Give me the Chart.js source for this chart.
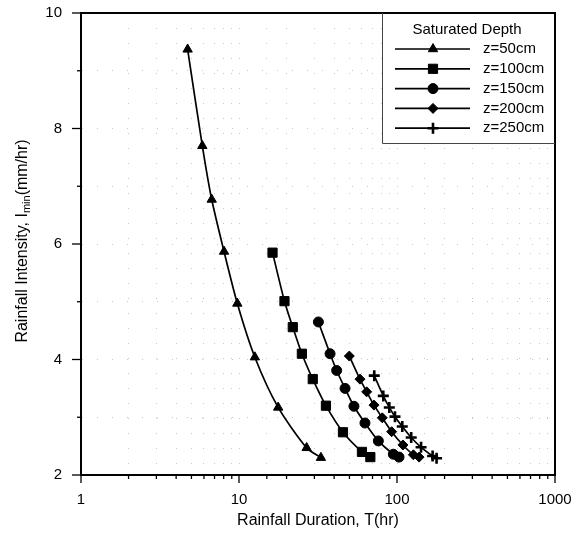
<!DOCTYPE html>
<html>
<head>
<meta charset="utf-8">
<script src="https://cdn.jsdelivr.net/npm/chart.js@4/dist/chart.umd.min.js"></script>
<style>
  html, body { margin: 0; padding: 0; background: #fff; }
  #wrap { width: 574px; height: 535px; }
</style>
</head>
<body>
<div id="wrap"><canvas id="chart" width="574" height="535"></canvas></div>
<script>
// values (duration in hr, intensity in mm/hr)
const seriesLabels = ["z=50cm", "z=100cm", "z=150cm", "z=200cm", "z=250cm"]
const markerStyles = ["triangle", "rect", "circle", "rectRot", "cross"]
const markerSizes = [5.4, 6.5, 5, 5, 5.5]

const duration50 = [4.73, 5.86, 6.72, 8.04, 9.76, 12.6, 17.7, 26.8, 33.0]
const intensity50 = [9.37, 7.70, 6.77, 5.87, 4.97, 4.04, 3.17, 2.47, 2.30]
const duration100 = [16.3, 19.4, 21.9, 25.0, 29.3, 35.5, 45.5, 60.0, 67.8]
const intensity100 = [5.85, 5.01, 4.56, 4.10, 3.66, 3.20, 2.74, 2.40, 2.31]
const duration150 = [31.8, 37.7, 41.5, 46.9, 53.4, 62.7, 76.2, 94.8, 103]
const intensity150 = [4.65, 4.10, 3.81, 3.50, 3.19, 2.90, 2.59, 2.36, 2.31]
const duration200 = [49.9, 58.3, 64.3, 71.5, 80.7, 92.5, 109, 127, 138]
const intensity200 = [4.06, 3.66, 3.44, 3.21, 2.99, 2.75, 2.52, 2.35, 2.31]
const duration250 = [71.8, 81.9, 89.4, 97.1, 108, 123, 142, 168, 178]
const intensity250 = [3.72, 3.37, 3.17, 3.01, 2.84, 2.65, 2.48, 2.33, 2.29]

const xTickLabels = [1, 10, 100, 1000]
const yTickLabels = [2, 4, 6, 8, 10]

const durations = [duration50, duration100, duration150, duration200, duration250]
const intensities = [intensity50, intensity100, intensity150, intensity200, intensity250]

const FONT = "'Liberation Sans', Arial, sans-serif"

const datasets = seriesLabels.map((label, i) => {
  const isCross = markerStyles[i] === "cross"
  return {
    label: label,
    data: durations[i].map((x, j) => ({ x: x, y: intensities[i][j] })),
    borderColor: "#000",
    backgroundColor: "#000",
    borderWidth: 1.7,
    tension: 0.25,
    pointStyle: markerStyles[i],
    pointRadius: markerSizes[i],
    pointBorderWidth: isCross ? 2.6 : 1,
    pointBackgroundColor: "#000",
    pointBorderColor: "#000",
    fill: false
  }
})

// drop the label overhang so layout padding alone places the plot box
const noOverhang = s => {
  s.paddingTop = 0
  s.paddingBottom = 0
  s.paddingLeft = 0
  s.paddingRight = 0
}

// axes decorations, legend and titles
const framePlugin = {
  id: "frame",
  afterDraw(chart) {
    const ctx = chart.ctx
    const area = chart.chartArea
    const xs = chart.scales.x
    const ys = chart.scales.y
    ctx.save()

    // top and right borders
    ctx.strokeStyle = "#000"
    ctx.lineWidth = 2
    ctx.beginPath()
    ctx.moveTo(area.left, area.top)
    ctx.lineTo(area.right, area.top)
    ctx.lineTo(area.right, area.bottom)
    ctx.stroke()

    // x tick marks (major longer)
    ctx.lineWidth = 1.3
    xs.ticks.forEach(t => {
      const px = xs.getPixelForValue(t.value)
      const major = xTickLabels.includes(t.value)
      ctx.beginPath()
      ctx.moveTo(px, area.bottom)
      ctx.lineTo(px, area.bottom + (major ? 8 : 4))
      ctx.stroke()
    })
    // y tick marks
    ys.ticks.forEach(t => {
      const py = ys.getPixelForValue(t.value)
      const major = yTickLabels.includes(t.value)
      ctx.beginPath()
      ctx.moveTo(area.left, py)
      ctx.lineTo(area.left - (major ? 9 : 4), py)
      ctx.stroke()
    })

    // legend box
    const lx = 382, ly = area.top, lw = area.right - 382, lh = 130
    ctx.fillStyle = "#fff"
    ctx.fillRect(lx, ly + 1, lw - 1, lh)
    ctx.strokeStyle = "#444"
    ctx.lineWidth = 1
    ctx.beginPath()
    ctx.moveTo(lx + 0.5, ly)
    ctx.lineTo(lx + 0.5, ly + lh + 0.5)
    ctx.lineTo(area.right, ly + lh + 0.5)
    ctx.stroke()

    ctx.fillStyle = "#000"
    ctx.font = "15px " + FONT
    ctx.textAlign = "center"
    ctx.textBaseline = "middle"
    ctx.fillText("Saturated Depth", 467, 30)

    ctx.textAlign = "left"
    chart.data.datasets.forEach((ds, i) => {
      const rowY = 49 + i * 19.8
      ctx.strokeStyle = "#000"
      ctx.lineWidth = 1.7
      ctx.beginPath()
      ctx.moveTo(395, rowY)
      ctx.lineTo(470, rowY)
      ctx.stroke()
      ctx.fillStyle = "#000"
      ctx.lineWidth = ds.pointBorderWidth
      Chart.helpers.drawPoint(ctx, {
        pointStyle: ds.pointStyle,
        radius: ds.pointRadius,
        borderWidth: ds.pointBorderWidth,
        rotation: 0
      }, 433, rowY)
      ctx.fillStyle = "#000"
      ctx.font = "15px " + FONT
      ctx.fillText(ds.label, 483, rowY)
    })

    // axis titles
    ctx.fillStyle = "#000"
    ctx.font = "16px " + FONT
    ctx.textAlign = "center"
    ctx.textBaseline = "middle"
    ctx.fillText("Rainfall Duration, T(hr)", (area.left + area.right) / 2, 521)

    // y title with subscript
    const partA = "Rainfall Intensity, I"
    const partSub = "min"
    const partB = "(mm/hr)"
    ctx.font = "16px " + FONT
    const wA = ctx.measureText(partA).width
    const wB = ctx.measureText(partB).width
    ctx.font = "11px " + FONT
    const wS = ctx.measureText(partSub).width
    const total = wA + wS + wB
    ctx.translate(23, 241)
    ctx.rotate(-Math.PI / 2)
    ctx.textAlign = "left"
    ctx.font = "16px " + FONT
    ctx.fillText(partA, -total / 2, 0)
    ctx.font = "11px " + FONT
    ctx.fillText(partSub, -total / 2 + wA, 4)
    ctx.font = "16px " + FONT
    ctx.fillText(partB, -total / 2 + wA + wS, 0)

    ctx.restore()
  }
}

new Chart(document.getElementById("chart"), {
  type: "line",
  data: { datasets: datasets },
  options: {
    responsive: false,
    animation: false,
    layout: { padding: { top: 13, right: 19, left: 0, bottom: 0 } },
    plugins: {
      legend: { display: false },
      tooltip: { enabled: false }
    },
    scales: {
      x: {
        type: "logarithmic",
        min: 1,
        max: 1000,
        afterFit: s => { s.height = 60; noOverhang(s) },
        border: { display: true, color: "#000", width: 2, dash: [1, 14] },
        grid: {
          drawTicks: false,
          color: "#c8c8c8",
          lineWidth: 1
        },
        ticks: {
          autoSkip: false,
          maxRotation: 0,
          padding: 16,
          color: "#000",
          font: { size: 15, family: FONT },
          callback: v => xTickLabels.includes(v) ? String(v) : ""
        }
      },
      y: {
        type: "linear",
        min: 2,
        max: 10,
        afterFit: s => { s.width = 81; noOverhang(s) },
        border: { display: true, color: "#000", width: 2, dash: [1, 14] },
        grid: {
          drawTicks: false,
          color: "#c8c8c8",
          lineWidth: 1
        },
        ticks: {
          stepSize: 1,
          padding: 19,
          color: "#000",
          font: { size: 15, family: FONT },
          callback: v => yTickLabels.includes(v) ? String(v) : ""
        }
      }
    }
  },
  plugins: [framePlugin]
})
</script>
</body>
</html>
